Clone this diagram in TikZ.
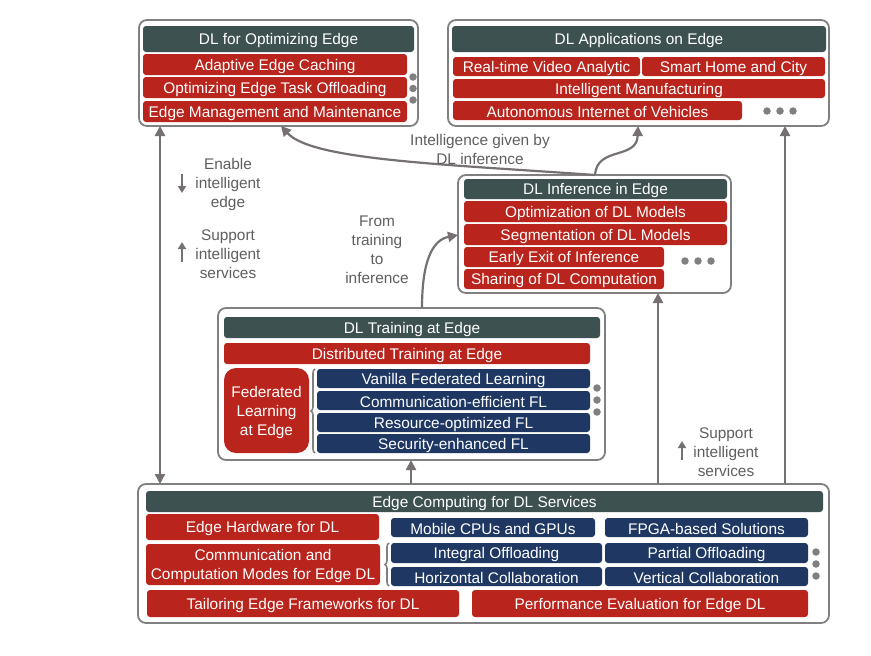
\documentclass[tikz,border=0pt]{standalone}
\usepackage{fontspec}
\setmainfont{Liberation Sans}
\usetikzlibrary{arrows.meta,decorations.pathreplacing,calc}
\definecolor{hdr}{RGB}{62,81,81}
\definecolor{rd}{RGB}{185,36,29}
\definecolor{bl}{RGB}{31,56,99}
\definecolor{ln}{RGB}{118,113,113}
\definecolor{bd}{RGB}{128,128,128}
\definecolor{tx}{RGB}{95,95,95}
\definecolor{dt}{RGB}{128,128,128}
\newcommand\cell[7]{\node[#6, minimum width={#4-#2}, minimum height={#5-#3}] (#1) at ({(#2+#4)/2},{(#3+#5)/2}) {};
  \node[celltext] (#1t) at ([yshift=-1.8pt]#1.center) {#7};}
\begin{document}
\begin{tikzpicture}[x=1pt,y=-1pt,
  every node/.style={inner sep=0pt, outer sep=0pt, font=\fontsize{15.4}{19}\selectfont, align=center},
  celltext/.style={text=white},
  outerbox/.style={draw=bd, line width=1.8pt, rounded corners=8pt, fill=white, rectangle},
  hbox/.style={fill=hdr, rounded corners=3pt, rectangle},
  rbox/.style={fill=rd, rounded corners=3pt, rectangle},
  bbox/.style={fill=bl, rounded corners=3pt, rectangle},
  fbox/.style={fill=rd, rounded corners=12pt, rectangle},
  lbl/.style={text=tx},
  arr/.style={draw=ln, line width=2.2pt, -{Triangle[length=10pt,width=10pt]}},
  darr/.style={draw=ln, line width=2.2pt, {Triangle[length=10pt,width=10pt]}-{Triangle[length=10pt,width=10pt]}},
  sarr/.style={draw=ln, line width=2pt, -{Triangle[length=7pt,width=8pt]}},
  brc/.style={draw=bd, line width=1.6pt, decorate, decoration={brace, amplitude=4pt}},
  dot/.style={circle, fill=dt, minimum size=7.5pt}
]
\useasboundingbox (0,0) rectangle (871,656);
\fill[white] (0,0) rectangle (871,656);

% ---------- top-left box
\cell{optbox}{139}{20}{418}{126}{outerbox}{}
\cell{opth}{143}{26}{414}{52}{hbox}{DL for Optimizing Edge}
\cell{opt1}{143}{54}{407}{75}{rbox}{Adaptive Edge Caching}
\cell{opt2}{143}{77}{407}{98}{rbox}{Optimizing Edge Task Offloading}
\cell{opt3}{143}{101}{407}{122}{rbox}{Edge Management and Maintenance}
\node[dot] (od1) at (413,77) {};
\node[dot] (od2) at (413,88.5) {};
\node[dot] (od3) at (413,100) {};

% ---------- top-right box
\cell{appbox}{448}{20}{829}{126}{outerbox}{}
\cell{apph}{452}{26}{826}{52}{hbox}{DL Applications on Edge}
\cell{app1}{453}{57}{640}{76}{rbox}{Real-time Video Analytic}
\cell{app2}{642}{57}{825}{76}{rbox}{Smart Home and City}
\cell{app3}{453}{79}{825}{98}{rbox}{Intelligent Manufacturing}
\cell{app4}{453}{101}{742}{120}{rbox}{Autonomous Internet of Vehicles}
\node[dot] (ad1) at (767,111) {};
\node[dot] (ad2) at (780,111) {};
\node[dot] (ad3) at (793,111) {};

% ---------- inference box
\cell{infbox}{458}{175}{731}{293}{outerbox}{}
\cell{infh}{464}{179}{727}{199}{hbox}{DL Inference in Edge}
\cell{inf1}{464}{201}{727}{222}{rbox}{Optimization of DL Models}
\cell{inf2}{464}{224}{727}{245}{rbox}{Segmentation of DL Models}
\cell{inf3}{464}{247}{664}{267}{rbox}{Early Exit of Inference}
\cell{inf4}{464}{269}{664}{289}{rbox}{Sharing of DL Computation}
\node[dot] (id1) at (685,261) {};
\node[dot] (id2) at (698,261) {};
\node[dot] (id3) at (711,261) {};

% ---------- training box
\cell{trainbox}{218}{308}{605}{460}{outerbox}{}
\cell{trh}{224}{317}{600}{338}{hbox}{DL Training at Edge}
\cell{tr1}{224}{343}{590}{364}{rbox}{Distributed Training at Edge}
\cell{fed}{224}{368}{309}{453}{fbox}{Federated\\Learning\\at Edge}
\cell{fl1}{317}{369}{590}{388}{bbox}{Vanilla Federated Learning}
\cell{fl2}{317}{391}{590}{410}{bbox}{Communication-efficient FL}
\cell{fl3}{317}{413}{590}{432}{bbox}{Resource-optimized FL}
\cell{fl4}{317}{434}{590}{453}{bbox}{Security-enhanced FL}
\draw[brc] ($(fl4.south west)+(-2,0)$) -- ($(fl1.north west)+(-2,0)$);
\node[dot] (td1) at (597,388) {};
\node[dot] (td2) at (597,400) {};
\node[dot] (td3) at (597,412) {};

% ---------- bottom box
\cell{ecbox}{138}{484}{829}{623}{outerbox}{}
\cell{ech}{146}{491}{823}{512}{hbox}{Edge Computing for DL Services}
\cell{ec1}{146}{514}{379}{540}{rbox}{Edge Hardware for DL}
\cell{ec1a}{391}{518}{595}{537}{bbox}{Mobile CPUs and GPUs}
\cell{ec1b}{605}{518}{808}{537}{bbox}{FPGA-based Solutions}
\cell{ec2}{146}{544}{380}{585}{rbox}{Communication and\\Computation Modes for Edge DL}
\cell{ec2a}{391}{543}{602}{563}{bbox}{Integral Offloading}
\cell{ec2b}{605}{543}{808}{563}{bbox}{Partial Offloading}
\cell{ec2c}{391}{567}{602}{586}{bbox}{Horizontal Collaboration}
\cell{ec2d}{605}{567}{808}{586}{bbox}{Vertical Collaboration}
\draw[brc] ($(ec2c.south west)+(-2,0)$) -- ($(ec2a.north west)+(-2,0)$);
\cell{ec3}{147}{590}{459}{617}{rbox}{Tailoring Edge Frameworks for DL}
\cell{ec4}{472}{590}{808}{617}{rbox}{Performance Evaluation for Edge DL}
\node[dot] (ed1) at (816,552) {};
\node[dot] (ed2) at (816,564) {};
\node[dot] (ed3) at (816,576) {};

% ---------- connectors
\coordinate (x160) at (160,0);
\coordinate (x595) at (595,0);
\coordinate (x281) at (281,0);
\coordinate (x638) at (638,0);
\coordinate (x422) at (422,0);
\coordinate (y235) at (0,235);
\coordinate (x411) at (411,0);
\coordinate (x658) at (658,0);
\coordinate (x785) at (785,0);

\draw[darr] (x160 |- optbox.south) -- (x160 |- ecbox.north);
\draw[arr] (x595 |- infbox.north) .. controls (440,164) and (312,160) .. (x281 |- optbox.south);
\draw[arr] (x595 |- infbox.north) .. controls (597,146) and (637,160) .. (x638 |- appbox.south);
\draw[arr] (x422 |- trainbox.north) .. controls (422,262) and (432,240) .. (infbox.west |- y235);
\draw[arr] (x411 |- ecbox.north) -- (x411 |- trainbox.south);
\draw[arr] (x658 |- ecbox.north) -- (x658 |- infbox.south);
\draw[arr] (x785 |- ecbox.north) -- (x785 |- appbox.south);

% ---------- labels
\node[lbl] (lb1) at (480,149) {Intelligence given by\\DL inference};
\node[lbl] (lb2) at (377,249.5) {From\\training\\to\\inference};
\node[lbl] (lb3) at (228,185) {Enable\\intelligent\\edge};
\node[lbl] (lb4) at (228,254) {Support\\intelligent\\services};
\node[lbl] (lb5) at (726,452) {Support\\intelligent\\services};

\coordinate (a1s) at (182,174);
\coordinate (a1e) at (182,193);
\draw[sarr] (a1s) -- (a1e);
\coordinate (a2s) at (182,262);
\coordinate (a2e) at (182,242);
\draw[sarr] (a2s) -- (a2e);
\coordinate (a3s) at (682,460);
\coordinate (a3e) at (682,441);
\draw[sarr] (a3s) -- (a3e);
\end{tikzpicture}
\end{document}
